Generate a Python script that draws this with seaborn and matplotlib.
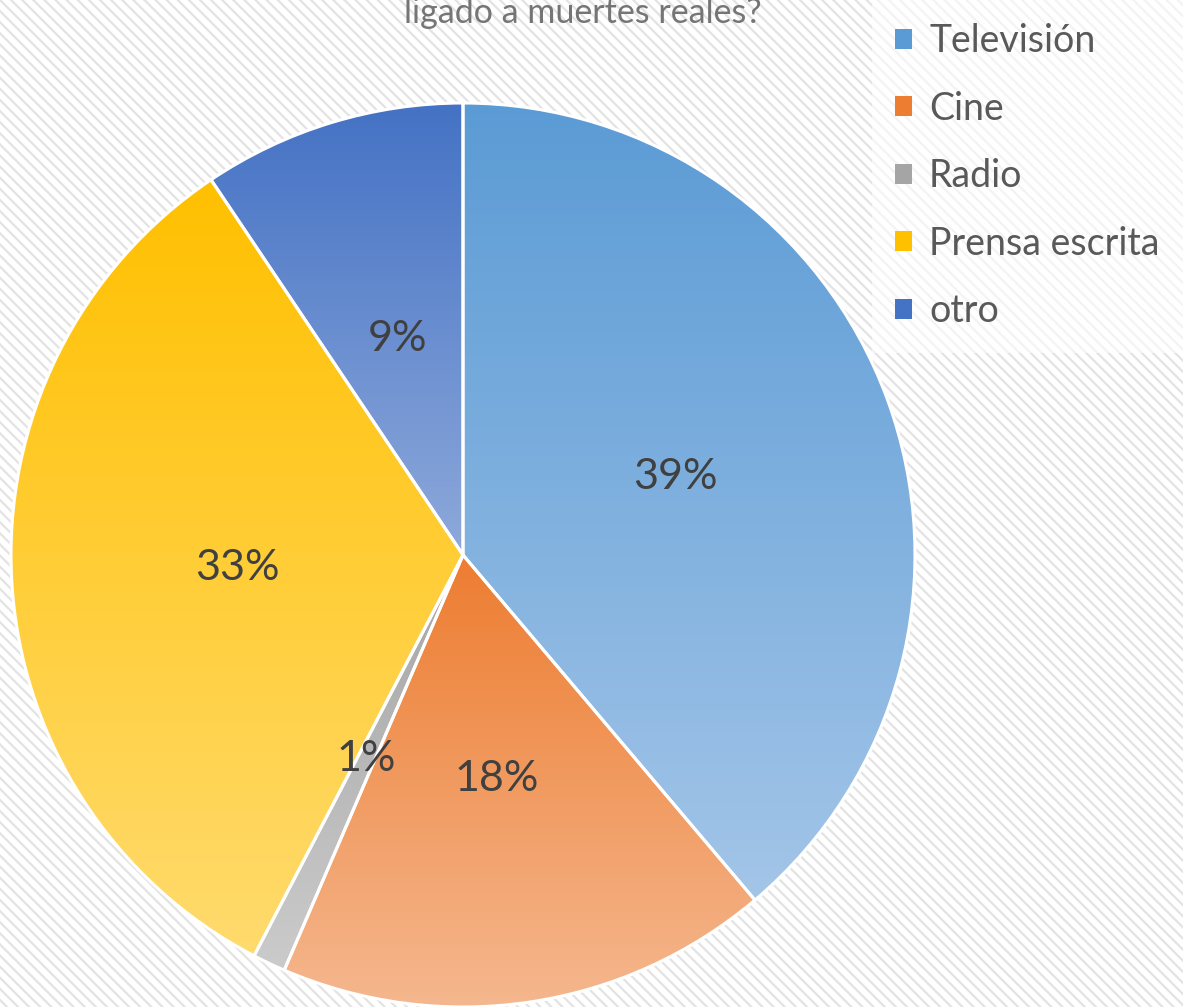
import numpy as np
import seaborn as sns
import matplotlib.pyplot as plt
from matplotlib.patches import Rectangle, Patch
from matplotlib.colors import to_rgb

categories = ['Televisión', 'Cine', 'Radio', 'Prensa escrita', 'otro']
counts = [33, 15, 1, 28, 8]
top_colors = ['#5B9BD5', '#ED7D31', '#A5A5A5', '#FFC000', '#4472C4']
bottom_colors = ['#A3C5E8', '#F5B78E', '#CBCBCB', '#FFDB6E', '#8EA9DB']
title_tail = 'ligado a muertes reales?'

sns.set_style('white')
plt.rcParams['font.family'] = ['Lato', 'DejaVu Sans']
plt.rcParams['hatch.linewidth'] = 1.6

fig = plt.figure(figsize=(11.83, 10.07), dpi=100)

# hatched background
bg = Rectangle((0, 0), 1, 1, transform=fig.transFigure, facecolor='white',
               edgecolor='#e3e3e3', linewidth=0, hatch='\\\\\\', zorder=-10)
fig.patches.append(bg)

ax = fig.add_axes([11 / 1183, 0, 904 / 1183, 904 / 1007])
ax.patch.set_alpha(0)

wedges, texts, autotexts = ax.pie(
    counts, startangle=90, counterclock=False,
    autopct=lambda p: f'{p:.0f}%', pctdistance=0.5,
    wedgeprops=dict(edgecolor='white', linewidth=2.2),
    textprops=dict(color='#404040', fontsize=31))

# vertical gradient in each wedge
for w, c1, c2 in zip(wedges, top_colors, bottom_colors):
    ext = w.get_path().get_extents()
    t = np.linspace(0, 1, 256)[:, None]
    grad = (1 - t) * np.array(to_rgb(c1)) + t * np.array(to_rgb(c2))
    img = ax.imshow(grad[:, None, :], extent=[ext.x0, ext.x1, ext.y0, ext.y1],
                    origin='upper', aspect='auto', zorder=1)
    img.set_clip_path(w)
    w.set_facecolor('none')
    w.set_zorder(2)
for t in autotexts:
    t.set_zorder(3)

ax.set_xlim(-1.0, 1.0)
ax.set_ylim(-1.0, 1.0)
ax.set_aspect('equal')
ax.axis('off')

# second line of the title, partly cut at the top edge as in the original
fig.text(583 / 1183, 1 - 23 / 1007, title_tail, ha='center', va='baseline',
         fontsize=24.5, color='#757575')

handles = [Patch(facecolor=c, edgecolor='none') for c in top_colors]
leg = fig.legend(handles, categories, loc='upper left',
                 bbox_to_anchor=(872 / 1183, 1.0), borderaxespad=0,
                 frameon=True, fontsize=27, labelcolor='#595959',
                 handlelength=0.45, handleheight=0.45, handletextpad=0.45,
                 labelspacing=0.84, borderpad=0.62, fancybox=False)
leg.get_frame().set_facecolor('white')
leg.get_frame().set_alpha(0.6)
leg.get_frame().set_linewidth(0)

fig.savefig('out.png', dpi=100)
